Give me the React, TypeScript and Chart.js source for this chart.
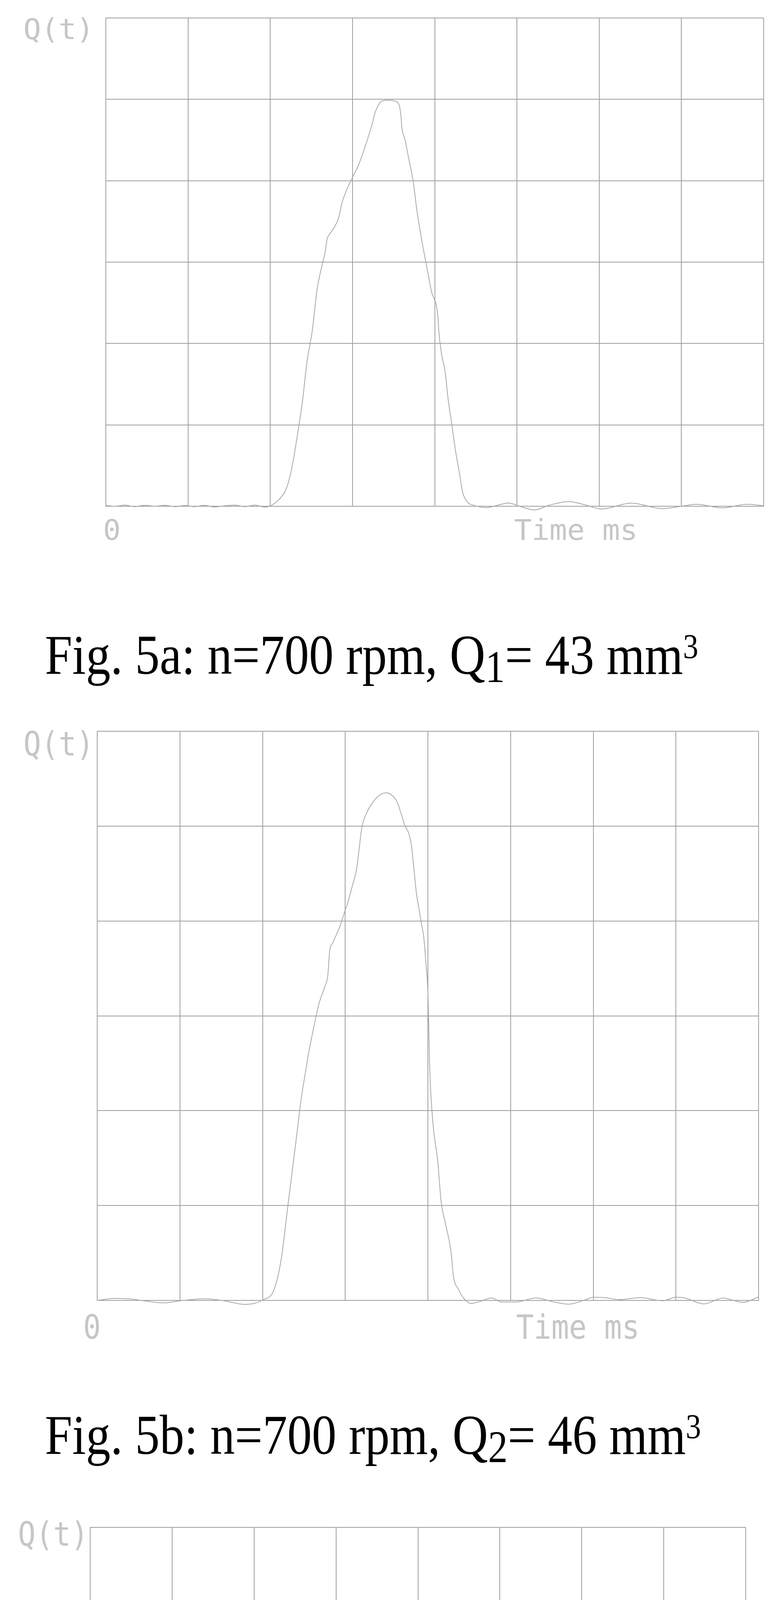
import { useEffect, useRef } from "react";
import Chart from "chart.js/auto";

// grid units: x 0..8 (time divisions), y 0..6 (Q divisions)
const tA = [0, 0.11, 0.23, 0.35, 0.47, 0.6, 0.72, 0.84, 0.96, 1.08, 1.2, 1.32, 1.44, 1.57, 1.69, 1.81, 1.93, 1.99,
  2.11, 2.2, 2.26, 2.32, 2.39, 2.45, 2.51, 2.57, 2.63, 2.67, 2.69, 2.72, 2.78, 2.83, 2.87, 2.93, 3.0, 3.08, 3.17, 3.24,
  3.27, 3.31, 3.36, 3.44, 3.51, 3.57, 3.59, 3.6, 3.64, 3.69, 3.74, 3.78, 3.84, 3.9, 3.96, 4.04, 4.05, 4.08, 4.13, 4.16,
  4.21, 4.25, 4.3, 4.34, 4.39, 4.48,
  4.63, 4.78, 4.9, 5.03, 5.21, 5.39, 5.63, 5.84, 6.03, 6.39, 6.77, 7.0, 7.18, 7.5, 7.8, 8.0];
const qA = [0.01, 0.0, 0.015, -0.005, 0.012, 0.0, 0.012, -0.005, 0.01, -0.005, 0.012, -0.01, 0.005, 0.015, -0.005, 0.015, -0.01, 0.0,
  0.087, 0.23, 0.46, 0.81, 1.28, 1.8, 2.15, 2.67, 2.96, 3.14, 3.28, 3.34, 3.43, 3.54, 3.72, 3.89, 4.04, 4.21, 4.47, 4.7,
  4.82, 4.92, 4.98, 4.99, 4.98, 4.92, 4.79, 4.66, 4.5, 4.24, 3.98, 3.66, 3.28, 2.96, 2.64, 2.32, 2.15, 1.89, 1.63, 1.34,
  0.99, 0.7, 0.41, 0.17, 0.06, 0.01,
  -0.017, 0.017, 0.04, 0.0, -0.046, 0.012, 0.058, 0.014, -0.034, 0.038, -0.029, 0.0, 0.024, -0.019, 0.024, 0.005];

const tB = [0, 0.21, 0.39, 0.57, 0.81, 1.0, 1.3, 1.54, 1.78, 1.9, 1.99,
  2.14, 2.23, 2.29, 2.35, 2.41, 2.47, 2.52, 2.56, 2.62, 2.68, 2.75, 2.79, 2.81, 2.85, 2.93, 2.99, 3.03, 3.08, 3.14, 3.17,
  3.2, 3.26, 3.35, 3.44, 3.5, 3.56, 3.63, 3.68, 3.72, 3.77, 3.8, 3.83, 3.86, 3.89, 3.92, 3.95, 3.98, 4.0, 4.01, 4.02,
  4.06, 4.12, 4.16, 4.21, 4.28, 4.31, 4.37, 4.43, 4.52,
  4.65, 4.77, 4.89, 5.07, 5.31, 5.52, 5.7, 5.91, 6.0, 6.14, 6.32, 6.57, 6.84, 7.0, 7.09, 7.34, 7.57, 7.81, 8.0];
const qB = [0, 0.021, 0.016, -0.005, -0.026, -0.005, 0.016, -0.005, -0.042, -0.032, 0,
  0.116, 0.458, 0.879, 1.3, 1.72, 2.14, 2.41, 2.62, 2.88, 3.12, 3.3, 3.43, 3.67, 3.77, 3.93, 4.09, 4.19, 4.35, 4.56, 4.77,
  4.98, 5.14, 5.27, 5.34, 5.35, 5.33, 5.25, 5.12, 5.01, 4.92, 4.8, 4.56, 4.3, 4.14, 3.98, 3.83, 3.51, 3.25, 2.93, 2.51,
  1.88, 1.46, 1.04, 0.82, 0.51, 0.25, 0.116, 0.026, -0.032,
  -0.005, 0.026, -0.016, -0.016, 0.026, -0.016, -0.04, 0.008, 0.033, 0.029, 0.008, 0.029, -0.004, 0.033, 0.029, -0.037, 0.025, -0.021, 0.037];

const tC = [0, 0.12, 0.3, 0.49, 0.73, 0.91, 1.16, 1.34, 1.52, 1.7, 1.82, 1.98, 2.07,
  2.16, 2.22, 2.28, 2.31, 2.34, 2.4, 2.46, 2.52, 2.58, 2.63, 2.67, 2.74, 2.8, 2.86, 2.92, 2.96, 3.01, 3.07, 3.13, 3.19,
  3.28, 3.34, 3.4, 3.43, 3.5, 3.56, 3.6, 3.65, 3.74, 3.83, 3.89, 3.98, 4.04, 4.1, 4.15, 4.19, 4.26, 4.3, 4.35, 4.38,
  4.41, 4.47, 4.59, 4.74, 4.98,
  5.17, 5.38, 5.59, 5.9, 6.05, 6.2, 6.44, 6.71, 6.94, 7.13, 7.32, 7.63, 8.0];
const qC = [0.011, 0.038, 0.06, 0.038, -0.022, -0.017, 0.022, 0, -0.022, 0.011, 0.022, 0.022, 0.038,
  0.121, 0.231, 0.396, 0.561, 0.726, 1.0, 1.33, 1.61, 1.88, 2.11, 2.22, 2.38, 2.55, 2.66, 2.82, 2.93, 2.99, 3.1, 3.23, 3.3,
  3.33, 3.32, 3.29, 3.15, 2.93, 2.66, 2.52, 2.38, 2.11, 1.83, 1.67, 1.45, 1.31, 1.2, 1.01, 0.89, 0.67, 0.51, 0.34, 0.204,
  0.132, 0.077, 0.039, 0.011, 0,
  0.017, 0.033, 0, -0.055, -0.033, 0.004, 0.053, 0, -0.041, -0.025, 0.012, 0.012, 0.004];

const tD = [0, 0.12, 0.24, 0.4, 0.55, 0.67, 0.76, 0.88, 1.0, 1.19, 1.37, 1.52, 1.67, 1.82, 1.98, 2.1,
  2.19, 2.25, 2.29, 2.33, 2.37, 2.41, 2.44, 2.48, 2.52, 2.55, 2.59, 2.63, 2.66, 2.71, 2.77, 2.83, 2.89, 2.95, 3.01, 3.07,
  3.13, 3.18, 3.25, 3.38, 3.42, 3.5, 3.56, 3.61, 3.67, 3.74, 3.8, 3.86, 3.92, 3.98, 4.04, 4.11, 4.18, 4.23, 4.28, 4.32,
  4.37, 4.41, 4.47, 4.56, 4.65, 4.74, 4.9, 5.02,
  5.2, 5.38, 5.63, 5.87, 6.08, 6.3, 6.52, 6.79, 7.0, 7.16, 7.4, 7.7, 7.9, 8.0];
const qD = [0.033, 0, -0.022, -0.011, 0.028, 0.045, -0.011, -0.067, -0.011, 0.028, -0.011, -0.045, -0.011, 0.022, 0.011, 0.028,
  0.1, 0.211, 0.434, 0.657, 0.796, 0.935, 1.16, 1.27, 1.41, 1.66, 1.83, 2.0, 2.23, 2.39, 2.53, 2.64, 2.75, 2.89, 3.01, 3.07,
  3.17, 3.27, 3.29, 3.28, 3.19, 3.02, 2.8, 2.55, 2.39, 2.25, 2.05, 1.83, 1.66, 1.5, 1.36, 1.19, 0.99, 0.77, 0.6, 0.43,
  0.212, 0.072, -0.028, -0.067, -0.039, 0.017, 0.056, 0.045,
  0, -0.028, 0.017, 0.045, 0.029, -0.033, -0.033, 0.029, 0.046, 0.05, -0.037, -0.033, 0.041, 0.05];

const yLabel = "Q(t)";
const zeroLabel = "0";
const xLabel = "Time ms";

const GRID = "#9e9e9e";
const CURVE = "#a8a8a8";
const TEXT = "#c6c6c6";
const PAD = 20;
const MONO = 75;
const SERIF = 126;

function Plot({ left, top, width, height, t, q }: { left: number; top: number; width: number; height: number; t: number[]; q: number[] }) {
  const ref = useRef<HTMLCanvasElement>(null);

  useEffect(() => {
    const chart = new Chart(ref.current!, {
      type: "line",
      data: {
        datasets: [
          {
            data: t.map((x, i) => ({ x, y: q[i] })),
            borderColor: CURVE,
            borderWidth: 2,
            pointRadius: 0,
            cubicInterpolationMode: "monotone",
            clip: false,
          },
        ],
      },
      options: {
        animation: false,
        responsive: true,
        maintainAspectRatio: false,
        events: [],
        layout: { padding: PAD },
        plugins: { legend: { display: false }, tooltip: { enabled: false } },
        scales: {
          x: {
            type: "linear",
            min: 0,
            max: 8,
            ticks: { display: false, stepSize: 1 },
            grid: { color: GRID, lineWidth: 2, drawTicks: false },
            border: { color: GRID, width: 2 },
          },
          y: {
            min: 0,
            max: 6,
            ticks: { display: false, stepSize: 1 },
            grid: { color: GRID, lineWidth: 2, drawTicks: false },
            border: { color: GRID, width: 2 },
          },
        },
      },
    });
    return () => chart.destroy();
  }, [t, q]);

  return (
    <div style={{ position: "absolute", left: left - PAD, top: top - PAD, width: width + 2 * PAD, height: height + 2 * PAD }}>
      <canvas ref={ref}></canvas>
    </div>
  );
}

function Mono({ x, baseline, text, sy }: { x: number; baseline: number; text: string; sy: number }) {
  const asc = 0.846 * MONO;
  return (
    <div
      style={{
        position: "absolute",
        left: x - 4,
        top: baseline - asc,
        fontFamily: '"DejaVu Sans Mono", monospace',
        fontSize: MONO,
        lineHeight: `${MONO}px`,
        color: TEXT,
        whiteSpace: "pre",
        transform: `scaleY(${sy})`,
        transformOrigin: `0 ${asc}px`,
      }}
    >
      {text}
    </div>
  );
}

function Caption({ baseline, letter, index, value }: { baseline: number; letter: string; index: string; value: string }) {
  const asc = 0.8375 * SERIF;
  return (
    <div
      style={{
        position: "absolute",
        left: 115,
        top: baseline - asc,
        fontFamily: '"Liberation Serif", "Times New Roman", serif',
        fontSize: SERIF,
        lineHeight: `${SERIF}px`,
        color: "#000",
        whiteSpace: "pre",
        transform: "scaleY(1.15)",
        transformOrigin: `0 ${asc}px`,
      }}
    >
      {`Fig. 5${letter}: n=700 rpm, Q`}
      <sub style={{ fontSize: "0.8em", verticalAlign: "-18px", lineHeight: 0 }}>{index}</sub>
      {`= ${value} mm`}
      <sup style={{ fontSize: "0.62em", verticalAlign: "36px", lineHeight: 0 }}>3</sup>
    </div>
  );
}

export default function App() {
  return (
    <div style={{ position: "absolute", left: 0, top: 0, width: 2003, height: 7952, background: "#fff", overflow: "hidden" }}>
      <Mono x={64} baseline={100} text={yLabel} sy={0.97} />
      <Plot left={271} top={46} width={1685} height={1250} t={tA} q={qA} />
      <Mono x={268} baseline={1382} text={zeroLabel} sy={0.97} />
      <Mono x={1321} baseline={1382} text={xLabel} sy={0.97} />
      <Caption baseline={1726} letter="a" index="1" value="43" />

      <Mono x={64} baseline={1934} text={yLabel} sy={1.13} />
      <Plot left={249} top={1872} width={1694} height={1457} t={tB} q={qB} />
      <Mono x={217} baseline={3427} text={zeroLabel} sy={1.13} />
      <Mono x={1326} baseline={3427} text={xLabel} sy={1.13} />
      <Caption baseline={3723} letter="b" index="2" value="46" />

      <Mono x={50} baseline={3957} text={yLabel} sy={1.13} />
      <Plot left={231} top={3910} width={1679} height={1461} t={tC} q={qC} />
      <Mono x={221} baseline={5491} text={zeroLabel} sy={1.13} />
      <Mono x={1285} baseline={5491} text={xLabel} sy={1.13} />
      <Caption baseline={5746} letter="c" index="3" value="28" />

      <Mono x={45} baseline={6060} text={yLabel} sy={1.12} />
      <Plot left={224} top={6011} width={1680} height={1446} t={tD} q={qD} />
      <Mono x={218} baseline={7577} text={zeroLabel} sy={1.12} />
      <Mono x={1278} baseline={7577} text={xLabel} sy={1.12} />
      <Caption baseline={7882} letter="d" index="4" value="28" />
    </div>
  );
}
